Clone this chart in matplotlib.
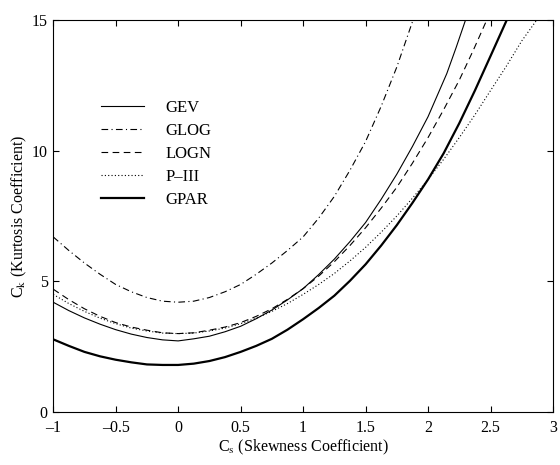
import matplotlib
matplotlib.use("Agg")
import matplotlib.pyplot as plt

plt.rcParams["font.family"] = ["Liberation Serif", "DejaVu Serif"]
plt.rcParams["mathtext.fontset"] = "stix"

# ── data ───────────────────────────────────────────────────────────────────
CS_GEV = [-1, -0.875, -0.75, -0.625, -0.5, -0.375, -0.25, -0.125, 0, 0.125, 0.25,
          0.375, 0.5, 0.625, 0.75, 0.875, 1, 1.125, 1.25, 1.375, 1.5, 1.625, 1.75,
          1.875, 2, 2.15, 2.225, 2.3]
CK_GEV = [4.2, 3.88, 3.6, 3.36, 3.15, 2.98, 2.85, 2.76, 2.72, 2.8, 2.9,
          3.07, 3.28, 3.57, 3.9, 4.29, 4.72, 5.26, 5.85, 6.52, 7.25, 8.14, 9.1,
          10.16, 11.3, 12.95, 13.95, 15.0]

CS_GLOG = [-1, -0.875, -0.75, -0.625, -0.5, -0.375, -0.25, -0.125, 0, 0.125, 0.25,
           0.375, 0.5, 0.625, 0.75, 0.875, 1, 1.125, 1.25, 1.375, 1.5, 1.625, 1.75,
           1.88]
CK_GLOG = [6.7, 6.18, 5.7, 5.27, 4.88, 4.6, 4.38, 4.24, 4.2, 4.24, 4.38,
           4.6, 4.88, 5.27, 5.7, 6.18, 6.7, 7.42, 8.25, 9.25, 10.35, 11.7, 13.2,
           15.0]

CS_LOGN = [-1, -0.875, -0.75, -0.625, -0.5, -0.375, -0.25, -0.125, 0, 0.125, 0.25,
           0.375, 0.5, 0.625, 0.75, 0.875, 1, 1.125, 1.25, 1.375, 1.5, 1.625, 1.75,
           1.875, 2, 2.125, 2.25, 2.36, 2.47]
CK_LOGN = [4.7, 4.3, 3.95, 3.66, 3.42, 3.25, 3.13, 3.03, 3.0, 3.03, 3.13,
           3.25, 3.42, 3.66, 3.95, 4.31, 4.72, 5.2, 5.75, 6.37, 7.05, 7.8, 8.6,
           9.52, 10.5, 11.57, 12.7, 13.82, 15.0]

CS_P3 = [-1, -0.875, -0.75, -0.625, -0.5, -0.375, -0.25, -0.125, 0, 0.125, 0.25,
         0.375, 0.5, 0.625, 0.75, 0.875, 1, 1.125, 1.25, 1.375, 1.5, 1.625, 1.75,
         1.875, 2, 2.125, 2.25, 2.375, 2.5, 2.625, 2.75, 2.87]
CK_P3 = [4.5, 4.15, 3.85, 3.59, 3.38, 3.21, 3.1, 3.02, 3.0, 3.02, 3.1,
         3.21, 3.38, 3.59, 3.85, 4.15, 4.5, 4.88, 5.3, 5.78, 6.3, 6.88, 7.5,
         8.18, 8.9, 9.67, 10.5, 11.37, 12.3, 13.22, 14.2, 15.0]

CS_GPAR = [-1, -0.875, -0.75, -0.625, -0.5, -0.375, -0.25, -0.125, 0, 0.125, 0.25,
           0.375, 0.5, 0.625, 0.75, 0.875, 1, 1.125, 1.25, 1.375, 1.5, 1.625, 1.75,
           1.875, 2, 2.125, 2.25, 2.375, 2.5, 2.63]
CK_GPAR = [2.78, 2.53, 2.3, 2.13, 2.0, 1.9, 1.82, 1.8, 1.8, 1.85, 1.95,
           2.1, 2.3, 2.53, 2.8, 3.15, 3.55, 3.98, 4.45, 5.02, 5.65, 6.37, 7.15,
           8.0, 8.9, 9.9, 11.05, 12.3, 13.62, 15.0]

X_TICKS = [-1, -0.5, 0, 0.5, 1, 1.5, 2, 2.5, 3]
X_LABELS = ["\u20131", "\u20130.5", "0", "0.5", "1", "1.5", "2", "2.5", "3"]
Y_TICKS = [0, 5, 10, 15]

# ── figure ──────────────────────────────────────────────────────────────────
fig = plt.figure(figsize=(5.6, 4.65), dpi=100)
ax = fig.add_axes([0.095, 0.114, 0.8925, 0.843])

ax.plot(CS_GEV, CK_GEV, color="k", lw=0.8, label="GEV")
ax.plot(CS_GLOG, CK_GLOG, color="k", lw=0.8, dashes=(6, 3, 1, 3), label="GLOG")
ax.plot(CS_LOGN, CK_LOGN, color="k", lw=0.8, dashes=(6, 4), label="LOGN")
ax.plot(CS_P3, CK_P3, color="k", lw=0.8, dashes=(1, 2), label="P\u2013III")
ax.plot(CS_GPAR, CK_GPAR, color="k", lw=1.6, label="GPAR")

ax.set_xlim(-1, 3)
ax.set_ylim(0, 15)
ax.set_xticks(X_TICKS)
ax.set_xticklabels(X_LABELS)
ax.set_yticks(Y_TICKS)
ax.tick_params(direction="in", top=True, right=True, labelsize=11.5, length=4)
ax.tick_params(axis="x", pad=6)
ax.tick_params(axis="y", pad=4)

ax.set_xlabel(r"C$_\mathrm{s}$ (Skewness Coefficient)", fontsize=11.5, labelpad=1)
ax.set_ylabel(r"C$_\mathrm{k}$ (Kurtosis Coefficient)", fontsize=11.5, labelpad=2)

ax.legend(loc="upper left", bbox_to_anchor=(0.065, 0.835), frameon=False,
          fontsize=12, handlelength=2.6, handletextpad=1.3, labelspacing=0.42)

fig.savefig("out.png", dpi=100)
